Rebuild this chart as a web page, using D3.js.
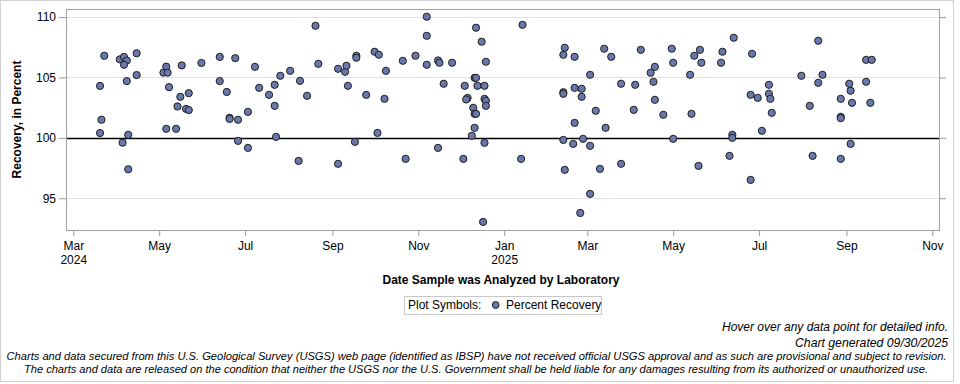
<!DOCTYPE html>
<html>
<head>
<meta charset="utf-8">
<script src="https://cdn.jsdelivr.net/npm/d3@7"></script>
<style>
  body { margin: 0; background: #fff; }
  svg { display: block; font-family: Arial, "Liberation Sans", sans-serif; }
</style>
</head>
<body>
<svg class="graph" width="960" height="384"></svg>
<script>
// sample dates (date analyzed by laboratory)
const sampleDates = [
  "2024-03-23","2024-03-20","2024-03-21","2024-03-20","2024-04-03","2024-04-06","2024-04-08","2024-04-06","2024-04-15","2024-04-15",
  "2024-04-08","2024-04-09","2024-04-05","2024-04-09","2024-05-06","2024-05-04","2024-05-07","2024-05-17","2024-05-08","2024-05-16",
  "2024-05-22","2024-05-14","2024-05-20","2024-05-22","2024-05-06","2024-05-13","2024-05-31","2024-06-13","2024-06-13","2024-06-18",
  "2024-06-20","2024-06-20","2024-06-24","2024-06-26","2024-06-26",
  "2024-07-03","2024-07-03","2024-07-08","2024-07-11","2024-07-18","2024-07-22","2024-07-22","2024-07-26","2024-07-23","2024-08-02",
  "2024-08-09","2024-08-14","2024-08-08","2024-08-20","2024-08-22","2024-09-05","2024-09-10","2024-09-11","2024-09-12","2024-09-05",
  "2024-09-18","2024-09-18","2024-09-25","2024-09-17","2024-10-01","2024-10-04","2024-10-09","2024-10-08","2024-10-03","2024-10-21",
  "2024-10-23","2024-10-30",
  "2024-11-07","2024-11-07","2024-11-07","2024-11-15","2024-11-16","2024-11-25","2024-11-19","2024-11-15","2024-12-12","2024-12-16",
  "2024-12-19","2024-12-11","2024-12-12","2024-12-04","2024-12-13","2024-12-18","2024-12-06","2024-12-05","2024-12-18","2024-12-19",
  "2024-12-19","2024-12-10","2024-12-11","2024-12-12","2024-12-11","2024-12-09","2024-12-18","2024-12-03","2024-12-17","2025-01-14",
  "2025-01-13","2025-02-13","2025-02-12","2025-02-20","2025-02-12","2025-02-12","2025-02-20","2025-02-25","2025-02-25","2025-02-20",
  "2025-02-12","2025-02-19","2025-02-26","2025-02-13","2025-02-24","2025-03-03","2025-03-03","2025-03-03",
  "2025-03-13","2025-03-18","2025-03-07","2025-03-14","2025-03-10","2025-03-25","2025-04-04","2025-04-08","2025-04-03","2025-03-25",
  "2025-04-15","2025-04-18","2025-04-17","2025-04-18","2025-04-24","2025-04-30","2025-05-01","2025-05-01","2025-05-13","2025-05-16",
  "2025-05-20","2025-05-21","2025-05-14","2025-05-19","2025-06-05","2025-06-04","2025-06-13","2025-06-12","2025-06-12","2025-06-10",
  "2025-06-26","2025-06-25","2025-06-30","2025-06-25","2025-07-03",
  "2025-07-08","2025-07-08","2025-07-09","2025-07-10","2025-07-31","2025-08-06","2025-08-12","2025-08-12","2025-08-15","2025-08-08",
  "2025-09-03","2025-09-04","2025-08-28","2025-09-05","2025-08-28","2025-08-28","2025-09-04","2025-08-28","2025-09-15","2025-09-19",
  "2025-09-15","2025-09-18"
];

// percent recovery, same order as sampleDates
const percentRecovery = [
  106.8,104.3,101.5,100.4,106.5,106.7,106.4,106.05,107.0,105.2,
  104.7,100.25,99.6,97.4,105.9,105.4,105.4,106.0,104.2,103.4,
  103.7,102.6,102.4,102.3,100.75,100.75,106.2,106.7,104.7,103.8,
  101.66,101.57,106.6,101.5,99.75,
  102.15,99.17,105.88,104.14,103.56,104.39,102.65,105.14,100.08,105.55,
  104.72,103.48,98.09,109.28,106.13,105.72,105.47,105.97,104.31,97.85,
  106.8,106.63,103.56,99.67,107.13,106.88,105.55,103.23,100.41,106.38,
  98.26,106.8,
  110.03,108.45,106.05,106.41,106.22,106.22,104.48,99.17,109.12,107.96,
  106.3,104.97,104.97,104.31,104.31,104.31,103.31,103.18,103.23,103.07,
  102.65,102.49,101.99,101.99,100.83,100.17,99.59,98.26,93.04,109.36,
  98.26,107.46,106.88,106.71,103.78,103.65,104.14,104.06,103.4,101.24,
  99.83,99.5,99.92,97.35,93.78,105.22,99.34,95.36,
  107.38,106.71,102.24,100.83,97.43,104.48,104.39,107.29,102.32,97.85,
  105.39,105.88,104.64,103.15,101.91,107.38,106.22,99.92,105.22,106.8,
  107.29,106.22,101.99,97.68,107.13,106.22,108.29,100.25,100.0,98.51,
  106.96,103.56,103.31,96.52,100.58,
  104.39,103.65,103.23,102.07,105.14,102.65,108.04,104.56,105.22,98.51,
  104.48,103.9,103.23,102.9,101.74,101.63,99.5,98.26,106.46,106.46,
  104.64,102.9
];

const yTickValues = [95, 100, 105, 110];
const referenceValue = 100;

const footerNotes = [
  "Hover over any data point for detailed info.",
  "Chart generated 09/30/2025"
];
const disclaimerLines = [
  "Charts and data secured from this U.S. Geological Survey (USGS) web page (identified as IBSP) have not received official USGS approval and as such are provisional and subject to revision.",
  "The charts and data are released on the condition that neither the USGS nor the U.S. Government shall be held liable for any damages resulting from its authorized or unauthorized use."
];

// plot area
const plot = { left: 66, right: 940, top: 9, bottom: 230 };
const svg = d3.select('svg.graph');

const parseDate = d3.utcParse('%Y-%m-%d');
const points = sampleDates.map((d, i) => ({ date: parseDate(d), value: percentRecovery[i] }));

const dayMs = 864e5;
const x = d3.scaleUtc()
  .domain([new Date(Date.UTC(2024, 2, 1) - 5.18 * dayMs), new Date(Date.UTC(2025, 10, 1) + 5.47 * dayMs)])
  .range([plot.left, plot.right]);
const y = d3.scaleLinear()
  .domain([92.37, 110.67])
  .range([plot.bottom, plot.top]);

// outer border
svg.append('rect')
  .attr('x', 0.5).attr('y', 0.5).attr('width', 953).attr('height', 381)
  .attr('fill', 'none').attr('stroke', '#d0d0d0');

// gridlines
svg.append('g').selectAll('line').data(yTickValues.filter(v => v !== referenceValue))
  .join('line')
  .attr('x1', plot.left).attr('x2', plot.right)
  .attr('y1', d => Math.round(y(d)) + 0.5).attr('y2', d => Math.round(y(d)) + 0.5)
  .attr('stroke', '#e2e2e2');

// reference line at 100
svg.append('line')
  .attr('x1', plot.left).attr('x2', plot.right)
  .attr('y1', Math.round(y(referenceValue)) + 0.5).attr('y2', Math.round(y(referenceValue)) + 0.5)
  .attr('stroke', '#000').attr('stroke-width', 1.3);

// axes
const xTicks = d3.utcMonth.every(2).range(new Date(Date.UTC(2024, 2, 1)), x.domain()[1]);
const monthFmt = d3.utcFormat('%b');

const xAxis = svg.append('g')
  .attr('transform', `translate(0, ${plot.bottom})`)
  .call(d3.axisBottom(x).tickValues(xTicks).tickSize(6).tickPadding(4).tickFormat(''));
xAxis.select('.domain').remove();
xAxis.selectAll('.tick line').attr('stroke', '#999');
xAxis.selectAll('.tick text').remove();
xAxis.selectAll('.tick').each(function(d, i) {
  const t = d3.select(this).append('text')
    .attr('fill', '#000').attr('font-size', 12).attr('text-anchor', 'middle');
  t.append('tspan').attr('x', 0).attr('y', 20).text(monthFmt(d));
  if (i === 0 || d.getUTCMonth() === 0) {
    t.append('tspan').attr('x', 0).attr('y', 34).text(d.getUTCFullYear());
  }
});

const yAxis = svg.append('g')
  .attr('transform', `translate(${plot.left}, 0)`)
  .call(d3.axisLeft(y).tickValues(yTickValues).tickSize(7).tickPadding(3));
yAxis.select('.domain').remove();
yAxis.selectAll('.tick line').attr('stroke', '#999');
yAxis.selectAll('.tick text').attr('font-size', 12).attr('fill', '#000').attr('font-family', null);

const yAxisRight = svg.append('g')
  .attr('transform', `translate(${plot.right}, 0)`)
  .call(d3.axisRight(y).tickValues(yTickValues).tickSize(6).tickFormat(''));
yAxisRight.select('.domain').remove();
yAxisRight.selectAll('.tick line').attr('stroke', '#999');

// plot frame
svg.append('rect')
  .attr('x', plot.left + 0.5).attr('y', plot.top + 0.5)
  .attr('width', plot.right - plot.left - 1).attr('height', plot.bottom - plot.top)
  .attr('fill', 'none').attr('stroke', '#a0a0a0');

// axis titles
svg.append('text')
  .attr('transform', `translate(21, ${(plot.top + plot.bottom) / 2}) rotate(-90)`)
  .attr('text-anchor', 'middle').attr('font-size', 12).attr('font-weight', 'bold')
  .text('Recovery, in Percent');

svg.append('text')
  .attr('x', (plot.left + plot.right) / 2 - 2).attr('y', 284)
  .attr('text-anchor', 'middle').attr('font-size', 12).attr('font-weight', 'bold')
  .text('Date Sample was Analyzed by Laboratory');

// data points
const markerFill = '#6878AC';
svg.append('g').selectAll('circle').data(points)
  .join('circle')
  .attr('cx', d => x(d.date))
  .attr('cy', d => y(d.value))
  .attr('r', 3.6)
  .attr('fill', markerFill)
  .attr('stroke', '#1e1e1e')
  .attr('stroke-width', 1);

// legend
const legend = svg.append('g');
legend.append('rect')
  .attr('x', 404.5).attr('y', 296.5).attr('width', 197).attr('height', 18)
  .attr('fill', '#fff').attr('stroke', '#c8c8c8');
legend.append('text').attr('x', 408).attr('y', 309).attr('font-size', 12).text('Plot Symbols:');
legend.append('circle').attr('cx', 495.7).attr('cy', 305).attr('r', 3.4)
  .attr('fill', markerFill).attr('stroke', '#1e1e1e');
legend.append('text').attr('x', 506).attr('y', 309).attr('font-size', 12).text('Percent Recovery');

// footer notes
const notes = [
  { text: footerNotes[0], x: 948, y: 331, anchor: 'end', len: 226, size: 12 },
  { text: footerNotes[1], x: 948, y: 347, anchor: 'end', len: 153, size: 12 },
  { text: disclaimerLines[0], x: 476.5, y: 360, anchor: 'middle', len: 940, size: 10.5 },
  { text: disclaimerLines[1], x: 476, y: 373, anchor: 'middle', len: 904, size: 10.5 }
];
svg.append('g').selectAll('text').data(notes)
  .join('text')
  .attr('x', d => d.x).attr('y', d => d.y)
  .attr('text-anchor', d => d.anchor)
  .attr('font-size', d => d.size)
  .attr('font-style', 'italic')
  .attr('textLength', d => d.len)
  .attr('lengthAdjust', 'spacingAndGlyphs')
  .text(d => d.text);
</script>
</body>
</html>
